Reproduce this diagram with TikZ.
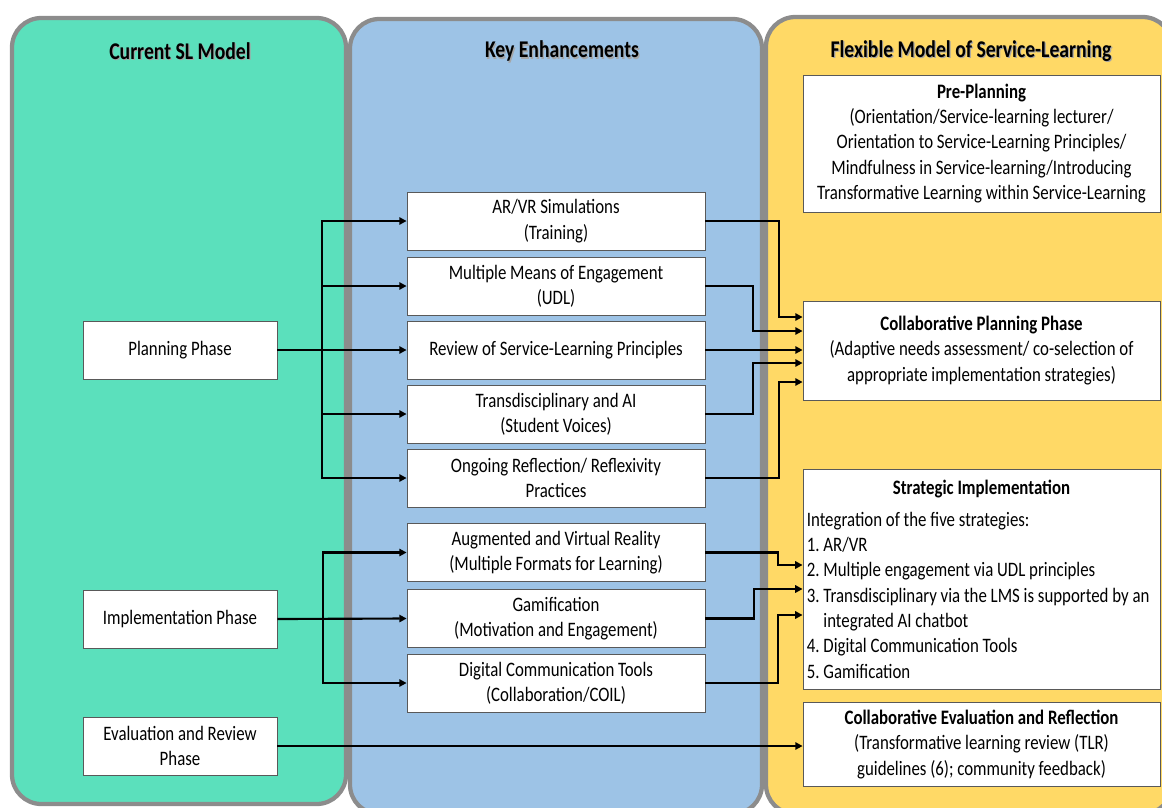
\documentclass[tikz,border=0pt]{standalone}
\usepackage{fontspec}
\setmainfont[FakeStretch=0.82]{Carlito}
\usetikzlibrary{arrows.meta,calc}
\definecolor{slgreen}{RGB}{91,224,188}
\definecolor{slblue}{RGB}{157,195,230}
\definecolor{slyellow}{RGB}{255,217,102}
\definecolor{bordergray}{RGB}{140,140,140}
\newcommand\slbody{\fontsize{15.4}{19}\selectfont}
\newcommand\slhead{\fontsize{18}{22}\selectfont\bfseries}
\newcommand\slshadow[1]{\makebox[0pt][l]{\hspace{0.9pt}\raisebox{-0.9pt}{\textcolor{black!35}{#1}}}#1}
\begin{document}
\begin{tikzpicture}[x=0.75pt,y=-0.75pt,
  panel/.style={fill=#1, draw=bordergray, line width=3.2pt, rounded corners=22pt},
  head/.style={font=\slhead, inner sep=0pt},
  box/.style={draw=gray!70!black, line width=0.6pt, fill=white, align=center,
    font=\slbody, inner sep=2pt},
  lbox/.style={box, minimum width=145.5pt, minimum height=43.5pt},
  mbox/.style={box, minimum width=223.5pt, minimum height=43.5pt},
  rbox/.style={box, minimum width=267.75pt},
  arr/.style={line width=1.6pt, -{Triangle[length=5.5pt,width=5.5pt]}}]
\useasboundingbox (0,0) rectangle (1162,807);
\begin{scope}
  \clip (0,0) rectangle (1162,807);
  \draw[panel=slyellow] (766,17) rectangle (1172,814);
  \draw[panel=slblue] (350,19) rectangle (762,814);
  \draw[panel=slgreen] (12,18) rectangle (346,804);
\end{scope}
% headers
\node[head] (h1) at (180,52) {\slshadow{Current SL Model}};
\node[head] (h2) at (562,52) {\slshadow{Key Enhancements}};
\node[head] (h3) at (971,52) {\slshadow{Flexible Model of Service-Learning}};
% left boxes
\node[lbox] (PP) at (180,350) {Planning Phase};
\node[lbox] (IP) at (180,619) {Implementation Phase};
\node[lbox] (ER) at (180,746) {Evaluation and Review\\Phase};
% middle boxes
\node[mbox] (AR) at (556,221) {AR/VR Simulations\\(Training)};
\node[mbox] (MM) at (556,286) {Multiple Means of Engagement\\(UDL)};
\node[mbox] (RS) at (556,350) {Review of Service-Learning Principles};
\node[mbox] (TA) at (556,414) {Transdisciplinary and AI\\(Student Voices)};
\node[mbox] (OR) at (556,478) {Ongoing Reflection/ Reflexivity\\Practices};
\node[mbox] (AV) at (556,552.5) {Augmented and Virtual Reality\\(Multiple Formats for Learning)};
\node[mbox] (GA) at (556,618.5) {Gamification\\(Motivation and Engagement)};
\node[mbox] (DC) at (556,683) {Digital Communication Tools\\(Collaboration/COIL)};
% right boxes
\node[rbox, minimum height=102.75pt] (PR) at (981.5,143.5) {\textbf{Pre-Planning}\\(Orientation/Service-learning lecturer/\\Orientation to Service-Learning Principles/\\Mindfulness in Service-learning/Introducing\\Transformative Learning within Service-Learning};
\node[rbox, minimum height=74.25pt] (CP) at (981.5,350.5) {\textbf{Collaborative Planning Phase}\\(Adaptive needs assessment/ co-selection of\\appropriate implementation strategies)};
\node[rbox, minimum height=165pt, align=left, text width=262pt, inner xsep=2.9pt] (SI) at (981.5,579) {\spaceskip=0pt\xspaceskip=0pt
{\centering\textbf{Strategic Implementation}\par}\vspace{5pt}
Integration of the five strategies:\\
1.~AR/VR\\
2.~Multiple engagement via UDL principles\\
3.~Transdisciplinary via the LMS is supported by an\\
\hphantom{3.~}integrated AI chatbot\\
4.~Digital Communication Tools\\
5.~Gamification};
\node[rbox, minimum height=63pt] (CE) at (981.5,744.5) {\textbf{Collaborative Evaluation and Reflection}\\(Transformative learning review (TLR)\\guidelines (6); community feedback)};
% planning connectors
\coordinate (pj) at (322,350);
\draw[arr] (PP.east) -- (RS.west);
\draw[arr] (pj) |- (AR.west);
\draw[arr] (pj) |- (MM.west);
\draw[arr] (pj) |- (TA.west);
\draw[arr] (pj) |- (OR.west);
% implementation connectors
\coordinate (ij) at (323,618.5);
\draw[arr] (IP.east) -- (GA.west);
\draw[arr] (ij) |- (AV.west);
\draw[arr] (ij) |- (DC.west);
% evaluation connector
\draw[arr] (ER.east) -- (ER.east -| CE.west);
% to collaborative planning
\draw[arr] (AR.east) -| (779,317) -- (CP.west |- 0,317);
\draw[arr] (MM.east) -| (753,331) -- (CP.west |- 0,331);
\draw[arr] (RS.east) -- (RS.east -| CP.west);
\draw[arr] (TA.east) -| (753,363) -- (CP.west |- 0,363);
\draw[arr] (OR.east) -| (779,382) -- (CP.west |- 0,382);
% to strategic implementation
\draw[arr] (AV.east) -| (778,565) -- (SI.west |- 0,565);
\draw[arr] (GA.east) -| (754,589) -- (SI.west |- 0,589);
\draw[arr] (DC.east) -| (778,615) -- (SI.west |- 0,615);
\end{tikzpicture}
\end{document}
